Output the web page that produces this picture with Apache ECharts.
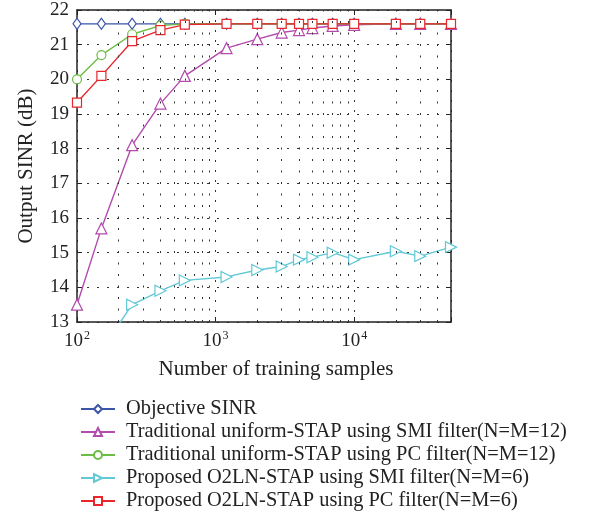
<!DOCTYPE html>
<html><head><meta charset="utf-8">
<script src="https://cdn.jsdelivr.net/npm/echarts@6/dist/echarts.min.js"></script>
<style>html,body{margin:0;padding:0;background:#fff}#c{width:601px;height:521px}</style>
</head><body><div id="c"></div>
<script>
const samples = [100, 150, 250, 400, 600, 1200, 2000, 3000, 4000, 5000, 7000, 10000, 20000, 30000, 50000];
const objectiveSINR = [21.6, 21.6, 21.6, 21.6, 21.6, 21.6, 21.6, 21.6, 21.6, 21.6, 21.6, 21.6, 21.6, 21.6, 21.6];
const tradSMI = [13.5, 15.7, 18.1, 19.3, 20.1, 20.9, 21.16, 21.35, 21.42, 21.48, 21.54, 21.57, 21.6, 21.6, 21.6];
const tradPC = [20.0, 20.7, 21.3, 21.55, 21.6, 21.6, 21.6, 21.6, 21.6, 21.6, 21.6, 21.6, 21.6, 21.6, 21.6];
const propSMI = [null, 12.2, 13.5, 13.9, 14.2, 14.3, 14.5, 14.6, 14.8, 14.87, 15.0, 14.8, 15.04, 14.9, 15.16];
const propPC = [19.33, 20.1, 21.1, 21.42, 21.58, 21.6, 21.6, 21.6, 21.6, 21.6, 21.6, 21.6, 21.6, 21.6, 21.6];
const seriesNames = [
  'Objective SINR',
  'Traditional uniform-STAP using SMI filter(N=M=12)',
  'Traditional uniform-STAP using PC filter(N=M=12)',
  'Proposed O2LN-STAP using SMI filter(N=M=6)',
  'Proposed O2LN-STAP using PC filter(N=M=6)'
];
const minorGrid = [200,300,400,500,600,700,800,900,2000,3000,4000,5000,6000,7000,8000,9000,20000,30000,40000];
const xMin = 100, xMax = 50000, yMin = 13, yMax = 22;

const FONT = 'Liberation Serif';
const gridDot = {color: '#333', width: 1, type: [2, 8]};

function mk(name, data, color, symbol, size, rot) {
  return {
    name, type: 'line', data: samples.map((x, i) => [x, data[i]]),
    symbol, symbolSize: size, symbolRotate: rot || 0, showAllSymbol: true,
    itemStyle: {color: '#fff', borderColor: color, borderWidth: 1.2},
    lineStyle: {color, width: 1.4},
    connectNulls: false, clip: true, z: 3
  };
}

const series = [
  mk(seriesNames[0], objectiveSINR, '#3b56a8', 'diamond', [8, 11]),
  mk(seriesNames[1], tradSMI, '#b34aae', 'triangle', 11),
  mk(seriesNames[2], tradPC, '#6bbd45', 'circle', 9),
  mk(seriesNames[3], propSMI, '#62c8d6', 'triangle', 11, -90),
  mk(seriesNames[4], propPC, '#e8262b', 'rect', 9)
];
series[0].markLine = {
  silent: true, symbol: 'none', label: {show: false},
  lineStyle: {color: '#333', width: 1, type: [2, 9.5]},
  data: minorGrid.map(v => ({xAxis: v})), animation: false
};

const chart = echarts.init(document.getElementById('c'));
chart.setOption({
  animation: false,
  textStyle: {fontFamily: FONT},
  grid: {left: 77, top: 10, width: 374, height: 312},
  legend: {
    orient: 'vertical', left: 75, top: 394, itemGap: 3, itemWidth: 34, itemHeight: 10,
    textStyle: {fontFamily: FONT, fontSize: 20.4, color: '#222', padding: [0, 0, 0, 6]},
    data: seriesNames
  },
  xAxis: [{
    type: 'log', logBase: 10, min: xMin, max: xMax,
    name: 'Number of training samples', nameLocation: 'middle', nameGap: 37,
    nameTextStyle: {fontFamily: FONT, fontSize: 21, color: '#222', padding: [0, 0, 0, 24]},
    axisLine: {lineStyle: {color: '#222', width: 1.5}},
    axisTick: {inside: true, length: 5, lineStyle: {color: '#222'}},
    splitLine: {show: true, lineStyle: gridDot},
    axisLabel: {
      margin: 8, color: '#222', fontFamily: FONT, fontSize: 19,
      formatter: v => {
        const e = Math.log10(v);
        if (Math.abs(e - Math.round(e)) > 1e-6) return '';
        return '10{s|' + Math.round(e) + '}';
      },
      rich: {s: {fontSize: 12, verticalAlign: 'top', padding: [0, 0, 10, 1], fontFamily: FONT, color: '#222'}}
    }
  }, {
    type: 'log', logBase: 10, min: xMin, max: xMax, position: 'top',
    axisLine: {lineStyle: {color: '#222', width: 1.5}},
    axisTick: {inside: true, length: 5, lineStyle: {color: '#222'}},
    axisLabel: {show: false}, splitLine: {show: false}
  }],
  yAxis: [{
    type: 'value', min: yMin, max: yMax, interval: 1,
    name: 'Output SINR (dB)', nameLocation: 'middle', nameGap: 40,
    nameTextStyle: {fontFamily: FONT, fontSize: 21, color: '#222'},
    axisLine: {show: true, lineStyle: {color: '#222', width: 1.5}},
    axisTick: {show: true, inside: true, length: 5, lineStyle: {color: '#222'}},
    splitLine: {show: true, lineStyle: gridDot},
    axisLabel: {margin: 8, color: '#222', fontFamily: FONT, fontSize: 19}
  }, {
    type: 'value', min: yMin, max: yMax, interval: 1, position: 'right',
    axisLine: {show: true, lineStyle: {color: '#222', width: 1.5}},
    axisTick: {show: true, inside: true, length: 5, lineStyle: {color: '#222'}},
    axisLabel: {show: false}, splitLine: {show: false}
  }],
  series
});
</script></body></html>
